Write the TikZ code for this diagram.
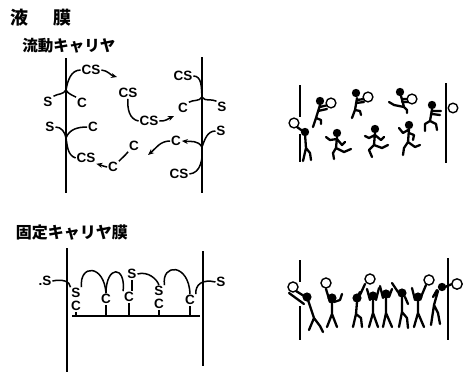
\documentclass[tikz,border=0pt]{standalone}
\usepackage{fontspec}
\setmainfont{Liberation Sans}
\newfontfamily\jpfont{Noto Sans CJK JP}
\usetikzlibrary{arrows.meta}
\begin{document}
\begin{tikzpicture}[x=1pt,y=-1pt,
  lab/.style={font=\bfseries\fontsize{13.5}{13.5}\selectfont, inner sep=0.8pt},
  jtitle/.style={font=\jpfont\bfseries\fontsize{15.5}{16}\selectfont, inner sep=0pt},
  membrane/.style={line width=2.2pt},
  bond/.style={line width=1.5pt},
  flow/.style={bond,-{Stealth[length=6pt,width=5pt]}},
  stick/.style={line width=2.3pt,line cap=round,line join=round},
  ball/.style={draw=black,fill=white,line width=1.4pt}]
\useasboundingbox (0,0) rectangle (467,375);

% ---------- headings ----------
\node[jtitle,font=\jpfont\bfseries\fontsize{18}{18}\selectfont] (liq) at (20,18) {液};
\node[jtitle,font=\jpfont\bfseries\fontsize{18}{18}\selectfont] (mem) at (62,18) {膜};
\node[jtitle] (mobile) at (69,46) {流動キャリヤ};
\node[jtitle,font=\jpfont\bfseries\fontsize{16}{16}\selectfont] (fixed) at (72,233) {固定キャリヤ膜};

% ---------- mobile carrier membrane ----------
\draw[membrane] (66,58) -- (66,193);
\draw[membrane] (202,57) -- (202,193);
\coordinate (jL1) at (66,90);
\coordinate (jL2) at (66,138);
\coordinate (jR1) at (202,97);
\coordinate (jR2) at (202,147);
\coordinate (ar1) at (117,77);
\coordinate (ar2) at (148,155);
\coordinate (ar3) at (174,116);

\node[lab] (cs1) at (91,70) {CS};
\node[lab] (s1) at (48,102) {S};
\node[lab] (c1) at (82,103) {C};
\node[lab] (s2) at (50,127) {S};
\node[lab] (c2) at (93,127) {C};
\node[lab] (cs2) at (86,158) {CS};
\node[lab] (c3) at (113,167) {C};
\node[lab] (c4) at (134,146) {C};
\node[lab] (cs3) at (128,93) {CS};
\node[lab] (cs4) at (149,121) {CS};
\node[lab] (c5) at (183,108) {C};
\node[lab] (cs5) at (183,76) {CS};
\node[lab] (s3) at (222,107) {S};
\node[lab] (c6) at (176,141) {C};
\node[lab] (s4) at (221,131) {S};
\node[lab] (cs6) at (179,174) {CS};

\draw[bond] (jL1) to[out=80,in=180] (cs1.west);
\draw[flow] (cs1.east) to[out=-5,in=165] (ar1);
\draw[bond] (jL1) to[out=-120,in=30] (s1.north east);
\draw[bond] (jL1) to[out=-60,in=150] (c1.north west);
\draw[bond] (s2.east) to[out=0,in=100] (jL2);
\draw[bond] (jL2) to[out=70,in=180] (c2.west);
\draw[bond] (jL2) to[out=-80,in=160] (cs2.west);
\draw[flow] (c3.west) to[out=170,in=-15] (cs2.south east);
\draw[bond] (c3.north east) to[out=45,in=-130] (c4.south west);
\draw[bond] (cs3.south) to[out=-95,in=170] (cs4.west);
\draw[flow] (cs4.east) to[out=-5,in=-155] (ar3);
\draw[bond] (cs5.east) to[out=0,in=95] (jR1);
\draw[bond] (jR1) to[out=-120,in=30] (c5.north east);
\draw[bond] (jR1) to[out=-60,in=150] (s3.north west);
\draw[bond] (s4.west) to[out=180,in=70] (jR2);
\draw[bond] (jR2) to[out=-85,in=5] (cs6.east);
\draw[flow] (jR2) to[out=120,in=-5] (c6.east);
\draw[flow] (c6.west) to[out=180,in=40] (ar2);

% ---------- fixed carrier membrane ----------
\draw[membrane] (67,248) -- (67,372);
\draw[membrane] (203,251) -- (203,366);
\coordinate (bw) at (72,316);
\coordinate (be) at (200,316);
\draw[line width=1.8pt] (bw) -- (be);

\node[lab] (sL) at (45,281) {.S};
\node[lab] (sR) at (221,282) {S};
\node[lab] (fs1) at (76,293) {S};
\node[lab] (fc1) at (76,306) {C};
\node[lab] (fc2) at (106,299) {C};
\node[lab] (fs3) at (132,274) {S};
\node[lab] (fc3) at (129,297) {C};
\node[lab] (fs4) at (159,291) {S};
\node[lab] (fc4) at (159,304) {C};
\node[lab] (fc5) at (190,300) {C};

\foreach \c in {fc1,fc2,fc3,fc4,fc5}
  \draw[bond] (\c.south) -- (\c.south |- bw);
\draw[bond] (fs3.south) -- (fs3.south |- fc3.north);

\draw[bond] (sL.east) .. controls (62,279) and (70,281) .. (fs1.north west);
\draw[bond] (fs1.north east) .. controls (79,264) and (104,264) .. (fc2.north);
\draw[bond] (fc2.north) .. controls (106,265) and (126,265) .. (fc3.north west);
\draw[bond] (fs3.east) .. controls (148,271) and (157,279) .. (fs4.north);
\draw[bond] (fs4.north east) .. controls (161,263) and (189,263) .. (fc5.north);
\draw[bond] (fc5.north east) .. controls (195,284) and (203,279) .. (sR.west);

% ---------- running carriers ----------
\draw[membrane] (300,85) -- (300,117);
\draw[membrane] (300,134) -- (300,162);
\draw[membrane] (446,83) -- (446,163);
\draw[ball] (453,108) circle (4.8pt);

% carrier at the left wall catching a ball
\draw[stick] (297,127) -- (304,132) (305,134) -- (306,148) -- (303,161)
  (306,148) -- (310,153) -- (311,160);
\fill (305,132) circle (4.2pt);
\draw[ball] (294,123) circle (4.9pt);

% carriers running with balls
\draw[stick] (320,107) -- (328,105) (318,111) -- (327,109)
  (320,105) -- (316,118) -- (313,127) (316,118) -- (321,120) -- (321,124);
\fill (320,101) circle (4.2pt);
\draw[ball] (331,103) circle (4.9pt);

\draw[stick] (357,98) -- (355,110) -- (352,118) (355,110) -- (360,111) -- (361,115)
  (357,100) -- (364,99) (356,103) -- (364,102);
\fill (356,93) circle (4.2pt);
\draw[ball] (368,97) circle (4.9pt);

\draw[stick] (401,96) -- (404,107) -- (394,105) -- (389,102)
  (404,107) -- (407,110) -- (407,113) (402,99) -- (408,99) (402,102) -- (408,102);
\fill (400,92) circle (4.2pt);
\draw[ball] (412,99) circle (4.9pt);

% carrier reaching for the right wall
\draw[stick] (432,109) -- (430,121) -- (425,124) -- (425,131)
  (430,121) -- (436,124) -- (437,130) (433,111) -- (441,111) (432,114) -- (440,115);
\fill (432,105) circle (4.2pt);

% carriers running back empty
\draw[stick] (326,137) -- (330,140) -- (337,139) -- (342,145) -- (345,142)
  (337,137) -- (336,148) -- (333,153) -- (334,159) (336,148) -- (344,152) -- (351,149);
\fill (337,133) circle (4.2pt);

\draw[stick] (365,136) -- (369,138) -- (375,135) -- (381,140) -- (384,137)
  (375,133) -- (374,145) -- (369,150) -- (372,157) (374,145) -- (382,148) -- (388,145);
\fill (375,129) circle (4.2pt);

\draw[stick] (399,128) -- (403,133) -- (408,130) (409,133) -- (414,135) -- (413,140)
  (409,129) -- (408,142) -- (404,148) -- (403,155) (408,142) -- (415,147) -- (420,145);
\fill (409,125) circle (4.2pt);

% ---------- standing carriers ----------
\draw[membrane] (300,260) -- (300,282);
\draw[membrane] (300,306) -- (300,340);
\draw[membrane] (448,258) -- (448,340);

% carrier at the left wall
\draw[stick] (296,291) -- (304,296) (289,293) -- (304,304)
  (308,300) -- (314,318) -- (309,330) (314,318) -- (320,326) -- (323,332);
\fill (307,297) circle (4.6pt);
\draw[ball] (293,287) circle (5pt);

\draw[stick] (330,302) -- (326,289) (334,302) -- (340,300) -- (342,294)
  (332,301) -- (332,314) -- (327,327) (332,314) -- (337,327);
\fill (332,298) circle (4.6pt);
\draw[ball] (326,283) circle (5pt);

\draw[stick] (360,295) -- (365,284) (356,300) -- (360,292)
  (357,302) -- (356,314) -- (353,327) (356,314) -- (361,318) -- (362,327);
\fill (357,298) circle (4.6pt);
\draw[ball] (370,279) circle (5pt);

\draw[stick] (370,300) -- (367,289) (376,300) -- (379,288)
  (373,300) -- (373,313) -- (369,327) (373,313) -- (378,327);
\fill (373,296) circle (4.6pt);

\draw[stick] (383,298) -- (380,286) (389,297) -- (392,289)
  (386,298) -- (386,313) -- (383,327) (386,313) -- (392,327);
\fill (386,294) circle (4.6pt);

\draw[stick] (398,292) -- (392,283) (405,297) -- (408,304)
  (402,297) -- (402,312) -- (399,327) (402,312) -- (407,318) -- (408,328);
\fill (402,293) circle (4.6pt);

\draw[stick] (415,300) -- (412,288) (421,297) -- (426,285)
  (418,301) -- (418,313) -- (414,327) (418,313) -- (424,327);
\fill (418,297) circle (4.6pt);
\draw[ball] (429,280) circle (5pt);

% carrier leaning over the right wall
\draw[stick] (445,287) -- (452,284) (437,290) -- (433,297)
  (438,291) -- (434,305) -- (431,325) (434,305) -- (438,313) -- (440,324);
\fill (442,287) circle (4.2pt);
\draw[ball] (457,284) circle (5.2pt);

\end{tikzpicture}
\end{document}
